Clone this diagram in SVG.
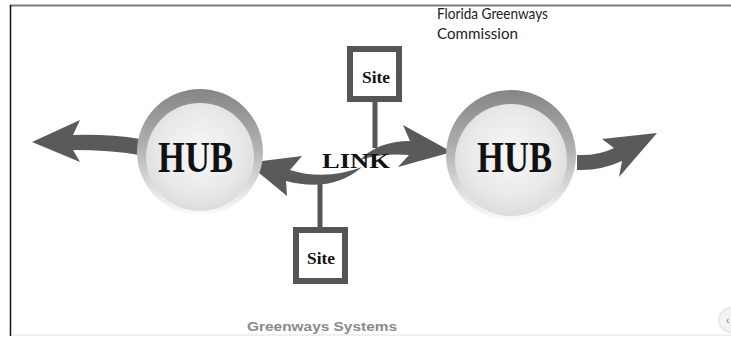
<svg xmlns="http://www.w3.org/2000/svg" width="731" height="337" viewBox="0 0 731 337">
<defs>
  <linearGradient id="ring" x1="0" y1="0" x2="0" y2="1">
    <stop offset="0" stop-color="#858585"/>
    <stop offset="0.45" stop-color="#b0b0b0"/>
    <stop offset="0.85" stop-color="#e8e8e8"/>
    <stop offset="1" stop-color="#fbfbfb"/>
  </linearGradient>
  <radialGradient id="core" cx="0.5" cy="0.45" r="0.55">
    <stop offset="0" stop-color="#f7f7f7"/>
    <stop offset="0.7" stop-color="#e9e9e9"/>
    <stop offset="1" stop-color="#dcdcdc"/>
  </radialGradient>
  <radialGradient id="btn" cx="0.5" cy="0.5" r="0.5">
    <stop offset="0.8" stop-color="#f3f3f3"/>
    <stop offset="1" stop-color="#e2e2e2"/>
  </radialGradient>
</defs>
<style>
  .hub { font-family: "Liberation Serif", "Times New Roman", serif; font-weight: bold; font-size: 44px; fill: #111; }
  .site { font-family: "Liberation Serif", "Times New Roman", serif; font-weight: bold; font-size: 17px; fill: #111; text-anchor: middle; }
  .box { fill: #fff; stroke: #555; stroke-width: 6; }
  .arrow { fill: #5a5a5a; }
  .stem { stroke: #555; stroke-width: 5; fill: none; }
  .credit { font-family: "Lato", "Liberation Sans", sans-serif; font-size: 15px; fill: #222; }
</style>
<rect width="731" height="337" fill="#fff"/>
<!-- frame -->
<line x1="10" y1="5.5" x2="731" y2="5.5" stroke="#7a7a7a" stroke-width="2"/>
<line x1="10.5" y1="5" x2="10.5" y2="336" stroke="#111" stroke-width="1.5"/>
<line x1="11" y1="335" x2="731" y2="335" stroke="#e0e0e0" stroke-width="1"/>

<text class="credit" x="437" y="19" textLength="111" lengthAdjust="spacingAndGlyphs">Florida Greenways</text>
<text class="credit" x="437" y="39" textLength="81" lengthAdjust="spacingAndGlyphs">Commission</text>

<g id="connectors">
  <line class="stem" x1="375" y1="100" x2="375" y2="148"/>
  <line class="stem" x1="320" y1="178" x2="320" y2="230"/>
  <path class="arrow" d="M 140 139 Q 110 134 73 135 L 80 120 L 32 142 L 80 162 L 73 150 Q 110 150 140 155 Z"/>
  <path class="arrow" d="M 247 163 L 302 156 L 290 170 Q 325 181 362 167 Q 332 193 286 181 L 287 196 Z"/>
  <path class="arrow" d="M 452 152 L 403 125 L 410 141 Q 378 141 360 160 Q 382 153 409 155 L 398 167 Z"/>
  <path class="arrow" d="M 577 155 Q 598 156 614 148 L 602 139 L 657 133 L 619 177 L 622 161 Q 600 171 577 170 Z"/>
</g>

<g id="hub-left">
  <circle cx="200" cy="152" r="63" fill="url(#ring)"/>
  <circle cx="200" cy="157" r="54" fill="url(#core)"/>
  <text class="hub" x="158" y="172" textLength="75" lengthAdjust="spacingAndGlyphs">HUB</text>
</g>
<g id="hub-right">
  <circle cx="511" cy="155" r="65" fill="url(#ring)"/>
  <circle cx="511" cy="160" r="56" fill="url(#core)"/>
  <text class="hub" x="477" y="172" textLength="75" lengthAdjust="spacingAndGlyphs">HUB</text>
</g>
<g id="link">
  <text x="322" y="168" font-family="Liberation Serif, Times New Roman, serif" font-weight="bold" font-size="22" fill="#111" textLength="68" lengthAdjust="spacingAndGlyphs">LINK</text>
</g>
<g id="site-top">
  <rect class="box" x="350" y="49" width="49" height="50"/>
  <text class="site" x="376" y="83" textLength="28" lengthAdjust="spacingAndGlyphs">Site</text>
</g>
<g id="site-bottom">
  <rect class="box" x="296" y="230" width="49" height="51"/>
  <text class="site" x="321" y="264" textLength="28" lengthAdjust="spacingAndGlyphs">Site</text>
</g>
<g id="caption">
  <text x="247" y="331" font-family="Liberation Sans, Arial, sans-serif" font-weight="bold" font-size="13" fill="#8a8a8a" textLength="150" lengthAdjust="spacingAndGlyphs">Greenways Systems</text>
</g>
<g id="corner-button">
  <circle cx="731" cy="320" r="13" fill="url(#btn)"/>
  <text x="726" y="324" font-family="Liberation Sans, sans-serif" font-size="10" fill="#777">‹</text>
</g>
</svg>
